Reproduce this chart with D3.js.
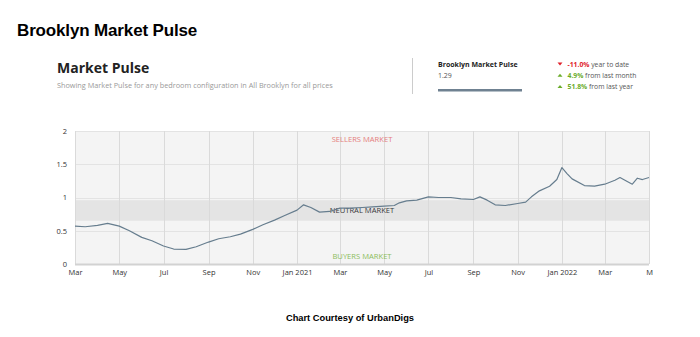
<!DOCTYPE html>
<html><head><meta charset="utf-8">
<script src="https://cdn.jsdelivr.net/npm/d3@7/dist/d3.min.js"></script>
<style>
html,body{margin:0;padding:0;background:#fff;}
svg{display:block;}
</style></head>
<body>
<svg id="c" width="700" height="337"></svg>
<script>
// ---- data ----
const dates = ["2020-03-01","2020-03-15","2020-04-01","2020-04-15","2020-05-01","2020-05-15","2020-06-01","2020-06-15",
"2020-07-01","2020-07-15","2020-08-01","2020-08-15","2020-09-01","2020-09-15","2020-10-01","2020-10-15",
"2020-11-01","2020-11-15","2020-12-01","2020-12-15","2021-01-01","2021-01-10","2021-01-20","2021-02-01",
"2021-02-15","2021-03-01","2021-03-15","2021-04-01","2021-04-15","2021-05-01","2021-05-15","2021-05-22","2021-06-01",
"2021-06-15","2021-07-01","2021-07-15","2021-08-01","2021-08-15","2021-09-01","2021-09-10","2021-09-20",
"2021-10-01","2021-10-15","2021-11-01","2021-11-12","2021-11-20","2021-12-01","2021-12-15","2021-12-25","2022-01-01",
"2022-01-08","2022-01-15","2022-02-01","2022-02-15","2022-03-01","2022-03-15","2022-03-22","2022-04-01",
"2022-04-08","2022-04-15","2022-04-22","2022-05-01"];
const pulse = [0.57,0.56,0.58,0.61,0.57,0.50,0.40,0.35,
0.27,0.225,0.22,0.26,0.33,0.38,0.41,0.45,
0.52,0.59,0.66,0.73,0.81,0.89,0.85,0.78,
0.79,0.84,0.84,0.85,0.86,0.87,0.88,0.92,0.95,
0.96,1.01,1.00,1.00,0.98,0.97,1.01,0.96,
0.89,0.88,0.91,0.93,1.01,1.10,1.17,1.27,1.45,
1.36,1.28,1.18,1.17,1.20,1.26,1.30,1.24,
1.20,1.29,1.27,1.30];
const xTickDates = ["2020-03-01","2020-05-01","2020-07-01","2020-09-01","2020-11-01","2021-01-01","2021-03-01","2021-05-01","2021-07-01","2021-09-01","2021-11-01","2022-01-01","2022-03-01","2022-05-01"];
const xTickLabels = ["Mar","May","Jul","Sep","Nov","Jan 2021","Mar","May","Jul","Sep","Nov","Jan 2022","Mar","M"];
const yTicks = [0,0.5,1,1.5,2];
const neutralBand = [0.65,0.96];
const stats = [
  {dir:"down", value:"-11.0%", text:" year to date"},
  {dir:"up", value:"4.9%", text:" from last month"},
  {dir:"up", value:"51.8%", text:" from last year"}
];
const currentValue = "1.29";

// ---- drawing ----
const svg = d3.select("#c");
const parse = d3.timeParse("%Y-%m-%d");
const data = dates.map((d,i)=>({date:parse(d), v:pulse[i]}));

const x = d3.scaleTime().domain([parse("2020-03-01"), parse("2022-05-01")]).range([75,649]);
const y = d3.scaleLinear().domain([0,2]).range([264,131]);

// headers
svg.append("text").attr("x",17).attr("y",36)
  .style("font-family","'Liberation Sans',Arial,sans-serif").style("font-weight","bold")
  .style("font-size","17px").style("letter-spacing","-0.15px").attr("fill","#000")
  .text("Brooklyn Market Pulse");
svg.append("text").attr("x",57).attr("y",73)
  .style("font-family","'Open Sans',sans-serif").style("font-weight","bold")
  .style("font-size","14px").attr("fill","#222").text("Market Pulse");
svg.append("text").attr("x",57).attr("y",88)
  .style("font-family","'Open Sans',sans-serif").style("font-size","7.3px").attr("fill","#999")
  .text("Showing Market Pulse for any bedroom configuration in All Brooklyn for all prices");

// right panel
svg.append("line").attr("x1",412.5).attr("x2",412.5).attr("y1",58).attr("y2",94).attr("stroke","#ccc").attr("stroke-width",1);
svg.append("text").attr("x",438).attr("y",66.5)
  .style("font-family","'Open Sans',sans-serif").style("font-weight","bold").style("font-size","7px").attr("fill","#222")
  .text("Brooklyn Market Pulse");
svg.append("text").attr("x",438).attr("y",78)
  .style("font-family","'Open Sans',sans-serif").style("font-size","7px").attr("fill","#555")
  .text(currentValue);
svg.append("rect").attr("x",438).attr("y",89).attr("width",84).attr("height",2.5).attr("fill","#6f8191");

stats.forEach((s,i)=>{
  const yy = 66.5 + i*11.3;
  const col = s.dir==="down" ? "#e0202a" : "#6aac2a";
  const tri = s.dir==="down" ? `M557.5,${yy-4} L562.5,${yy-4} L560,${yy-1} Z` : `M557.5,${yy-1} L562.5,${yy-1} L560,${yy-4} Z`;
  svg.append("path").attr("d",tri).attr("fill",col);
  const t = svg.append("text").attr("x",567.5).attr("y",yy)
    .style("font-family","'Open Sans',sans-serif").style("font-size","6.8px");
  t.append("tspan").style("font-weight","bold").attr("fill",col).text(s.value);
  t.append("tspan").attr("fill","#555").text(s.text);
});

// plot
const g = svg.append("g");
g.append("rect").attr("x",75).attr("y",y(2)).attr("width",649-75).attr("height",y(0)-y(2)).attr("fill","#f4f4f4");
g.append("rect").attr("x",75).attr("y",y(neutralBand[1])).attr("width",649-75)
  .attr("height",y(neutralBand[0])-y(neutralBand[1])).attr("fill","#e4e4e4");
// grid
g.selectAll(".hg").data(yTicks.filter(d=>d>0)).join("line")
  .attr("x1",75).attr("x2",649).attr("y1",d=>Math.round(y(d))+0.5).attr("y2",d=>Math.round(y(d))+0.5)
  .attr("stroke","#e3e3e3").attr("stroke-width",1);
g.selectAll(".vg").data(xTickDates.map(parse)).join("line")
  .attr("x1",d=>Math.round(x(d))+0.5).attr("x2",d=>Math.round(x(d))+0.5).attr("y1",y(2)).attr("y2",y(0))
  .attr("stroke","#dadada").attr("stroke-width",1);
g.append("line").attr("x1",75).attr("x2",649).attr("y1",y(0)+0.5).attr("y2",y(0)+0.5).attr("stroke","#d2d2d2").attr("stroke-width",2);

// zone labels
const lbl = (t,yy,c)=>g.append("text").attr("x",362).attr("y",yy).attr("text-anchor","middle")
  .style("font-family","'Open Sans',sans-serif").style("font-size","7.6px").attr("fill",c).text(t);
lbl("SELLERS MARKET",142,"#e57e7e");
lbl("NEUTRAL MARKET",213,"#3a3a3a");
lbl("BUYERS MARKET",259,"#8cbd5c");

// line
g.append("path").datum(data)
  .attr("d",d3.line().x(d=>x(d.date)).y(d=>y(d.v)))
  .attr("fill","none").attr("stroke","#667d8e").attr("stroke-width",1.2).attr("stroke-linejoin","round");

// axes
const xa = svg.append("g").attr("transform",`translate(0,${y(0)})`)
  .call(d3.axisBottom(x).tickValues(xTickDates.map(parse)).tickFormat((d,i)=>xTickLabels[i]).tickSize(0).tickPadding(6));
xa.select(".domain").remove();
xa.selectAll("text").style("font-family","'Open Sans',sans-serif").style("font-size","7.5px").attr("fill","#333");
const ya = svg.append("g").attr("transform","translate(75,0)")
  .call(d3.axisLeft(y).tickValues(yTicks).tickFormat(d3.format("~g")).tickSize(0).tickPadding(8));
ya.select(".domain").remove();
ya.selectAll("text").style("font-family","'Open Sans',sans-serif").style("font-size","7.5px").attr("fill","#333");

// footer
svg.append("text").attr("x",350).attr("y",321).attr("text-anchor","middle")
  .style("font-family","'Liberation Sans',Arial,sans-serif").style("font-weight","bold").style("font-size","9.3px").attr("fill","#000")
  .text("Chart Courtesy of UrbanDigs");
</script>
</body></html>
